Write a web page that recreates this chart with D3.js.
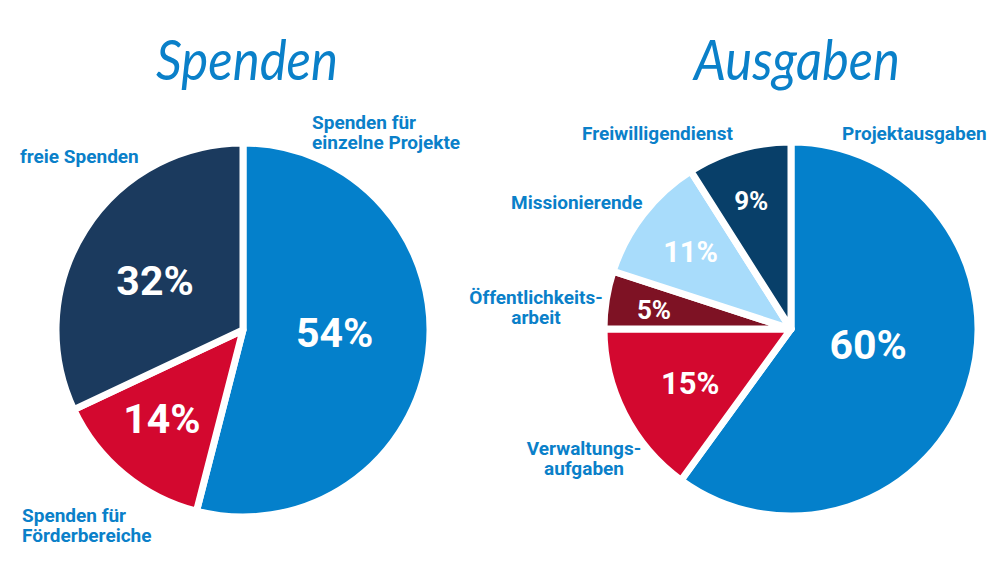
<!DOCTYPE html>
<html>
<head>
<meta charset="utf-8">
<script src="https://cdn.jsdelivr.net/npm/d3@7"></script>
<style>
  body { margin: 0; background: #fff; }
  svg { display: block; }
</style>
</head>
<body>
<div id="chart"></div>
<script>
// data
var spendenLabels = [["Spenden für", "einzelne Projekte"], ["Spenden für", "Förderbereiche"], ["freie Spenden"]];
var spendenValues = [54, 14, 32];
var spendenColors = ["#0480cb", "#d3082f", "#1b3a5e"];

var ausgabenLabels = [["Projektausgaben"], ["Verwaltungs-", "aufgaben"], ["Öffentlichkeits-", "arbeit"], ["Missionierende"], ["Freiwilligendienst"]];
var ausgabenValues = [60, 15, 5, 11, 9];
var ausgabenColors = ["#0480cb", "#d3082f", "#7e1224", "#a8dcfb", "#083f69"];

var W = 1000, H = 563;
var blue = "#0a80c9";

var svg = d3.select("#chart")
  .append("svg")
  .attr("width", W)
  .attr("height", H);

// layout of the two pies and their text
var pies = [
  { title: "Spenden", titleX: 247, titleW: 182, labels: spendenLabels, values: spendenValues, colors: spendenColors,
    cx: 243, cy: 330,
    pctSize: [41, 41, 41],
    pctRadius: [0.49, 0.64, 0.54],
    pctShift: [-6, 3, -3],
    names: [ {x: 312, y: 129, anchor: "start"}, {x: 22, y: 522, anchor: "start"}, {x: 20, y: 163, anchor: "start"} ] },
  { title: "Ausgaben", titleX: 797, titleW: 206, labels: ausgabenLabels, values: ausgabenValues, colors: ausgabenColors,
    cx: 791, cy: 329,
    pctSize: [41, 31, 26, 29, 26],
    pctRadius: [0.42, 0.61, 0.74, 0.68, 0.72],
    pctShift: [-7, -1, -1, 0, -1],
    names: [ {x: 842, y: 140, anchor: "start"}, {x: 584, y: 455, anchor: "middle"}, {x: 536, y: 304, anchor: "middle"},
             {x: 511, y: 209, anchor: "start"}, {x: 582, y: 140, anchor: "start"} ] }
];

var R = 187;

var arc = d3.arc().innerRadius(0).outerRadius(R);
var pie = d3.pie().sort(null).value(function(d) { return d; });

pies.forEach(function(p) {
  // titles (script font not available, italic stands in)
  svg.append("text")
    .attr("x", p.titleX)
    .attr("y", 80)
    .attr("text-anchor", "middle")
    .attr("font-family", "Lato, sans-serif")
    .attr("font-style", "italic")
    .attr("font-size", "56px")
    .attr("textLength", p.titleW)
    .attr("lengthAdjust", "spacingAndGlyphs")
    .attr("fill", blue)
    .text(p.title);

  var g = svg.append("g")
    .attr("transform", "translate(" + p.cx + "," + p.cy + ")");

  var arcs = pie(p.values);

  g.selectAll(".slice")
    .data(arcs)
    .enter()
    .append("path")
    .attr("class", "slice")
    .attr("d", arc)
    .attr("fill", function(d, i) { return p.colors[i]; })
    .attr("stroke", "#fff")
    .attr("stroke-width", 7)
    .attr("stroke-linejoin", "round");

  // percent labels inside the slices
  g.selectAll(".pct")
    .data(arcs)
    .enter()
    .append("text")
    .attr("class", "pct")
    .attr("x", function(d, i) {
      var a = (d.startAngle + d.endAngle) / 2 + p.pctShift[i] * Math.PI / 180;
      return Math.sin(a) * R * p.pctRadius[i];
    })
    .attr("y", function(d, i) {
      var a = (d.startAngle + d.endAngle) / 2 + p.pctShift[i] * Math.PI / 180;
      return -Math.cos(a) * R * p.pctRadius[i];
    })
    .attr("dy", "0.36em")
    .attr("text-anchor", "middle")
    .attr("font-family", "Roboto, sans-serif")
    .attr("font-weight", "bold")
    .attr("font-size", function(d, i) { return p.pctSize[i] + "px"; })
    .attr("fill", "#fff")
    .text(function(d) { return d.value + "%"; });

  // category names
  p.labels.forEach(function(lines, i) {
    var pos = p.names[i];
    var t = svg.append("text")
      .attr("x", pos.x)
      .attr("y", pos.y)
      .attr("text-anchor", pos.anchor)
      .attr("font-family", "Roboto, sans-serif")
      .attr("font-weight", "bold")
      .attr("font-size", "19px")
      .attr("fill", blue);
    lines.forEach(function(l, j) {
      t.append("tspan")
        .attr("x", pos.x)
        .attr("dy", j == 0 ? 0 : 19.5)
        .text(l);
    });
  });
});
</script>
</body>
</html>
